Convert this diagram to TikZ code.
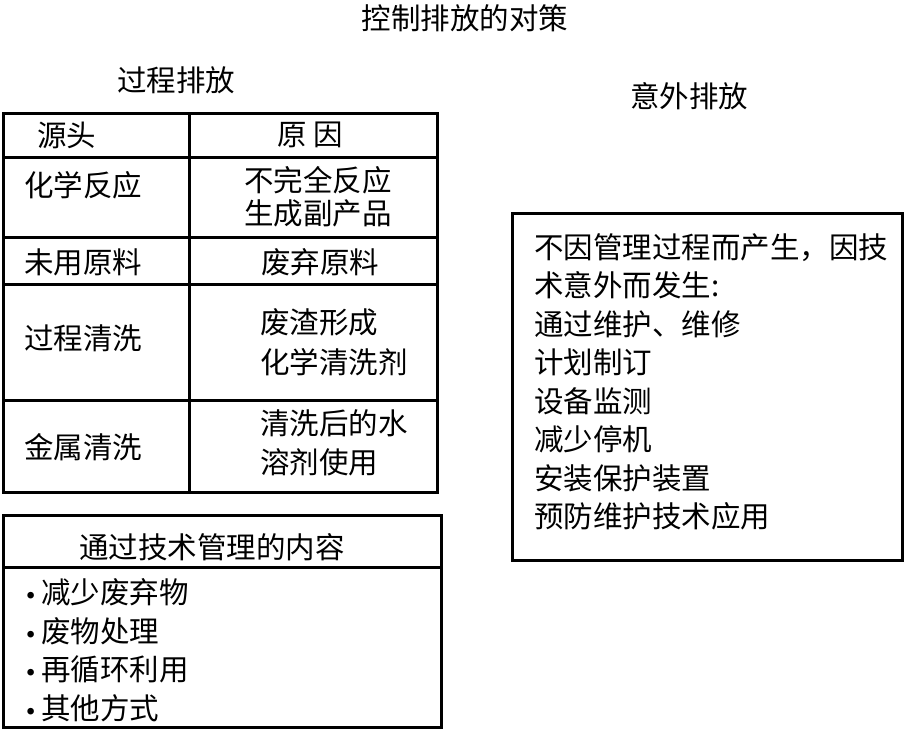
\documentclass[tikz,border=0pt]{standalone}
\usepackage{fontspec}
\newfontfamily\cjk{Noto Sans CJK SC}
\usetikzlibrary{positioning}
\newcommand\bul{{\normalfont\textbullet}}

\begin{document}
\begin{tikzpicture}[
    x=1pt, y=-1pt,
    txt/.style={font=\cjk\fontsize{29.5}{38.5}\selectfont, inner sep=0pt, align=left},
    cell/.style={txt, anchor=west},
    frame/.style={draw=black, line width=3pt}
]
\useasboundingbox (0,0) rectangle (904,729);

\node[txt] (title) at (465,18) {控制排放的对策};
\node[txt] (proc) at (176,80) {过程排放};
\node[txt] (acc) at (689,96) {意外排放};

% table of process emissions
\draw[frame] (3,113) rectangle (437,492);
\draw[frame] (189,113) -- (189,492);
\foreach \y in {157,237,284,400}
    \draw[frame] (3,\y) -- (437,\y);

\node[cell] (src) at (37,135) {源头};
\node[txt] (cause) at (310,135) {原 因};
\node[cell] (chem) at (24,185) {化学反应};
\node[cell, font=\cjk\fontsize{29.5}{33}\selectfont] (chemc) at (244,196.5) {不完全反应\\生成副产品};
\node[cell] (raw) at (24,262) {未用原料};
\node[cell] (rawc) at (261,262) {废弃原料};
\node[cell] (wash) at (24,338) {过程清洗};
\node[cell, font=\cjk\fontsize{29.5}{39.5}\selectfont] (washc) at (260,342.5) {废渣形成\\化学清洗剂};
\node[cell] (metal) at (24,447) {金属清洗};
\node[cell, font=\cjk\fontsize{29.5}{39.5}\selectfont] (metalc) at (260,443) {清洗后的水\\溶剂使用};

% management box
\draw[frame] (3,515) rectangle (441,727);
\draw[frame] (3,567) -- (441,567);
\node[txt] (mgmt) at (212,547) {通过技术管理的内容};
\node[cell] (mgmtl) at (20,650) {\bul 减少废弃物\\\bul 废物处理\\\bul 再循环利用\\\bul 其他方式};

% accidental emissions box
\draw[frame] (512,213) rectangle (902,560);
\node[cell] (accl) at (534,382) {不因管理过程而产生，因技\\术意外而发生:\\通过维护、维修\\计划制订\\设备监测\\减少停机\\安装保护装置\\预防维护技术应用};
\end{tikzpicture}
\end{document}
